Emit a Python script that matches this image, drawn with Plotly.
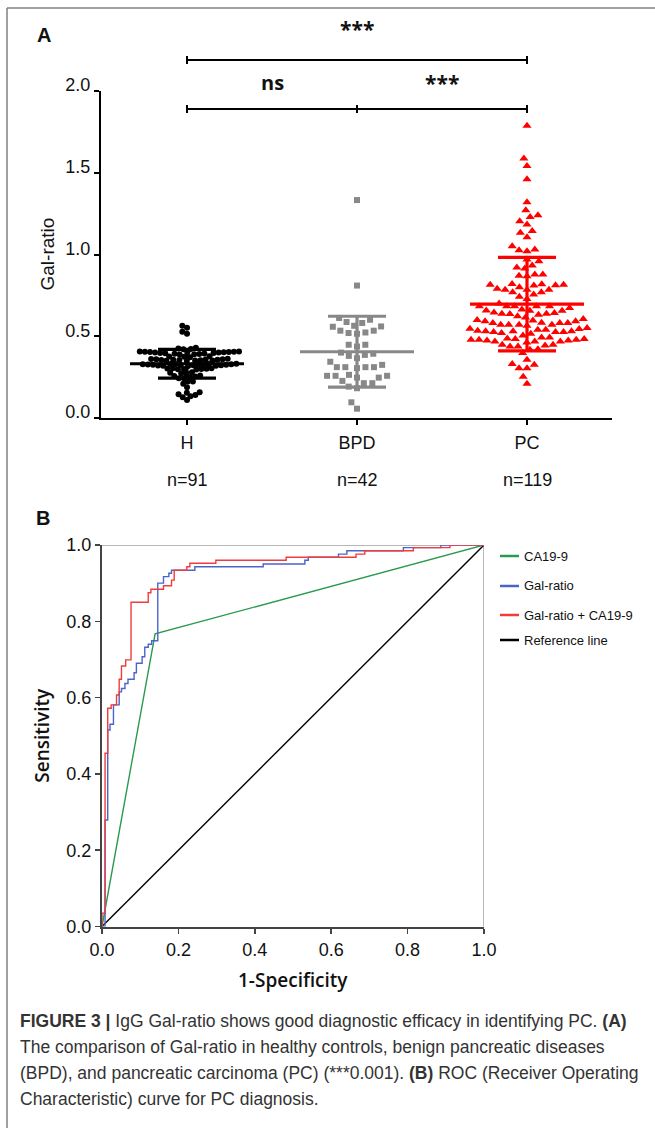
import math
import plotly.graph_objects as go

W, H = 655, 1128

# ---------------- data ----------------
groups = ["H", "BPD", "PC"]
group_colors = ["#000000", "#888888", "#ff0000"]
group_symbols = ["circle", "square", "triangle-up"]

h_values = [0.564, 0.552, 0.527, 0.515,
            0.430, 0.425, 0.422, 0.420,
            0.388, 0.390, 0.391, 0.393, 0.394, 0.396, 0.397, 0.398, 0.400,
            0.400, 0.401, 0.402, 0.403, 0.404, 0.405, 0.405, 0.406, 0.407,
            0.372, 0.375, 0.376, 0.378,
            0.348, 0.350, 0.351, 0.352, 0.353, 0.354, 0.355, 0.356, 0.357,
            0.358, 0.359, 0.360, 0.361, 0.362,
            0.318, 0.319, 0.320, 0.321, 0.322, 0.323, 0.324, 0.325, 0.325,
            0.326, 0.327, 0.327, 0.328, 0.329, 0.330, 0.331, 0.331, 0.332,
            0.296, 0.298, 0.299, 0.300, 0.301, 0.302, 0.304, 0.305,
            0.272, 0.274, 0.276, 0.280,
            0.251, 0.254, 0.257, 0.260,
            0.243, 0.243, 0.223, 0.223, 0.209, 0.188,
            0.158, 0.145, 0.133, 0.110, 0.127, 0.141, 0.155]

bpd_values = [1.333, 0.810,
              0.612, 0.601,
              0.560, 0.581, 0.587, 0.558, 0.564,
              0.534, 0.520, 0.515, 0.523, 0.534,
              0.448, 0.448, 0.437,
              0.400,
              0.386, 0.380, 0.393, 0.366,
              0.325, 0.311, 0.311, 0.305, 0.311, 0.311, 0.344,
              0.258, 0.258, 0.247, 0.247, 0.258, 0.264,
              0.213, 0.192, 0.213, 0.227, 0.182,
              0.096, 0.057]

pc_values = [1.787, 1.587, 1.542, 1.460, 1.320, 1.270, 1.240, 1.229, 1.204,
             1.184, 1.143, 1.133, 1.106, 1.051, 1.030, 1.026, 1.020, 0.969,
             0.959, 0.932, 0.920, 0.914,
             0.877, 0.877, 0.870, 0.867,
             0.815, 0.812, 0.810, 0.815, 0.818, 0.820,
             0.800, 0.791, 0.785, 0.785, 0.785,
             0.769, 0.755, 0.769, 0.742, 0.728, 0.700,
             0.683, 0.683, 0.683, 0.683, 0.683, 0.673,
             0.658, 0.656, 0.642, 0.636, 0.632, 0.663, 0.622, 0.638, 0.638,
             0.646, 0.656, 0.615,
             0.605, 0.597, 0.591, 0.581, 0.571, 0.571, 0.564, 0.571, 0.571,
             0.581, 0.581, 0.583, 0.591, 0.599,
             0.550, 0.544, 0.540, 0.530, 0.526, 0.526, 0.520, 0.530, 0.516,
             0.526, 0.530, 0.534, 0.540, 0.546, 0.505,
             0.493, 0.483, 0.479, 0.479, 0.474, 0.468, 0.462, 0.468, 0.468,
             0.474, 0.479, 0.483, 0.486, 0.493,
             0.448, 0.448, 0.437, 0.437, 0.443,
             0.421, 0.397, 0.417,
             0.331, 0.305, 0.305, 0.325, 0.356,
             0.253, 0.210]

group_values = [h_values, bpd_values, pc_values]
comparisons = [("***", 0, 2), ("ns", 0, 1), ("***", 1, 2)]

y_ticks_a = [0.0, 0.5, 1.0, 1.5, 2.0]
roc_ticks = [0.0, 0.2, 0.4, 0.6, 0.8, 1.0]

ca199_fpr = [0.0, 0.139, 1.0]
ca199_tpr = [0.0, 0.767, 1.0]

gal_fpr = [0.0, 0.008, 0.015, 0.021, 0.030, 0.045, 0.051, 0.060, 0.068, 0.084,
           0.090, 0.105, 0.112, 0.121, 0.130, 0.146, 0.161, 0.175, 0.182, 0.243,
           0.422, 0.531, 0.540, 0.619, 0.641, 0.789, 0.887, 1.0]
gal_tpr = [0.0, 0.279, 0.515, 0.530, 0.581, 0.615, 0.624, 0.637, 0.648, 0.665,
           0.690, 0.707, 0.732, 0.740, 0.749, 0.900, 0.917, 0.926, 0.934, 0.943,
           0.950, 0.960, 0.968, 0.976, 0.985, 0.993, 1.0, 1.0]

comb_fpr = [0.0, 0.0, 0.008, 0.015, 0.024, 0.038, 0.045, 0.051, 0.062, 0.076,
            0.121, 0.128, 0.161, 0.182, 0.189, 0.222, 0.230, 0.298, 0.482, 0.665,
            0.688, 0.815, 0.911, 1.0]
comb_tpr = [0.0, 0.035, 0.454, 0.572, 0.581, 0.607, 0.648, 0.683, 0.699, 0.850,
            0.875, 0.884, 0.893, 0.908, 0.934, 0.943, 0.952, 0.960, 0.968, 0.976,
            0.985, 0.993, 1.0, 1.0]

ref_fpr = [0.0, 1.0]
ref_tpr = [0.0, 1.0]

roc_names = ["CA19-9", "Gal-ratio", "Gal-ratio + CA19-9", "Reference line"]
roc_colors = ["#2a9a50", "#4a64c8", "#f03c3c", "#000000"]

caption_lines = [
    "<b>FIGURE 3 |</b> IgG Gal-ratio shows good diagnostic efficacy in identifying PC. <b>(A)</b>",
    "The comparison of Gal-ratio in healthy controls, benign pancreatic diseases",
    "(BPD), and pancreatic carcinoma (PC) (***0.001). <b>(B)</b> ROC (Receiver Operating",
    "Characteristic) curve for PC diagnosis.",
]

# ---------------- layout helpers ----------------
def py(y):
    return 1 - y / H

def pxx(x):
    return x / W

# panel A geometry (px)
A_L, A_R, A_T, A_B = 101, 612, 91, 418
A_XRANGE = [-0.506, 2.5]
A_YRANGE = [0, 2]
xscale_a = (A_R - A_L) / (A_XRANGE[1] - A_XRANGE[0])
yscale_a = (A_B - A_T) / (A_YRANGE[1] - A_YRANGE[0])

# panel B geometry (px)
B_L, B_R, B_T, B_B = 102, 484, 545, 926.5


def swarm_offsets(vals, d):
    n = len(vals)
    order = sorted(range(n), key=lambda i: vals[i])
    placed = []
    offs = [0.0] * n
    for i in order:
        yv = vals[i] * yscale_a
        nb = [(a, b) for a, b in placed if abs(b - yv) < d]
        cands = [0.0]
        for a, b in nb:
            dx = math.sqrt(max(d * d - (b - yv) ** 2, 0))
            cands += [a + dx, a - dx]
        valid = [c for c in cands
                 if all((c - a) ** 2 + (yv - b) ** 2 >= d * d - 1e-6 for a, b in nb)]
        best = min(valid, key=lambda c: (round(abs(c), 6), c))
        placed.append((best, yv))
        offs[i] = best
    return [o / xscale_a for o in offs]


fig = go.Figure()

spacing = [5.1, 8.5, 8.0]
msize = [6, 6, 8]
for gi, (name, vals) in enumerate(zip(groups, group_values)):
    offs = swarm_offsets(vals, spacing[gi])
    fig.add_trace(go.Scatter(
        x=[gi + o for o in offs], y=vals, mode="markers",
        marker=dict(symbol=group_symbols[gi], size=msize[gi], color=group_colors[gi],
                    line=dict(width=0)),
        xaxis="x", yaxis="y", showlegend=False, name=name, cliponaxis=False))

# mean +/- SD bars
for gi, vals in enumerate(group_values):
    n = len(vals)
    m = sum(vals) / n
    sd = math.sqrt(sum((v - m) ** 2 for v in vals) / (n - 1))
    hw, cw = 57 / xscale_a, 29 / xscale_a
    xs = [gi - hw, gi + hw, None, gi, gi, None, gi - cw, gi + cw, None, gi - cw, gi + cw]
    ys = [m, m, None, m - sd, m + sd, None, m + sd, m + sd, None, m - sd, m - sd]
    fig.add_trace(go.Scatter(x=xs, y=ys, mode="lines",
                             line=dict(color=group_colors[gi], width=3.2),
                             xaxis="x", yaxis="y", showlegend=False, hoverinfo="skip"))

# ROC curves
roc_data = [(ref_fpr, ref_tpr, 3, "linear"), (ca199_fpr, ca199_tpr, 0, "linear"),
            (gal_fpr, gal_tpr, 1, "hv"), (comb_fpr, comb_tpr, 2, "hv")]
for fx, ty, ci, shape in roc_data:
    fig.add_trace(go.Scatter(x=fx, y=ty, mode="lines",
                             line=dict(color=roc_colors[ci], width=1.4, shape=shape),
                             xaxis="x2", yaxis="y2", showlegend=False, name=roc_names[ci]))

tickfont = dict(family="Liberation Sans, Arial", size=18, color="#111")
common = dict(showgrid=False, zeroline=False, showline=True, automargin=False,
              ticks="outside", ticklen=5)

fig.update_layout(
    template="none",
    width=W, height=H, margin=dict(l=0, r=0, t=0, b=0, pad=0, autoexpand=False),
    paper_bgcolor="white", plot_bgcolor="white", showlegend=False,
    xaxis=dict(domain=[pxx(A_L), pxx(A_R)], range=A_XRANGE, anchor="y",
               linecolor="#000", linewidth=2, tickwidth=2, tickcolor="#000",
               tickvals=[0, 1, 2], ticktext=groups, tickfont=tickfont,
               ticklabelstandoff=2, **common),
    yaxis=dict(domain=[py(A_B), py(A_T)], range=A_YRANGE, anchor="x",
               linecolor="#000", linewidth=2, tickwidth=2, tickcolor="#000",
               tickvals=y_ticks_a, tickformat=".1f", tickfont=tickfont,
               ticklabelshift=-6, **common),
    xaxis2=dict(domain=[pxx(B_L), pxx(B_R)], range=[0, 1], anchor="y2",
                linecolor="#444", linewidth=2, tickwidth=1.5, tickcolor="#444",
                tickvals=roc_ticks, tickformat=".1f", tickfont=tickfont,
                ticklabelstandoff=1, **common),
    yaxis2=dict(domain=[py(B_B), py(B_T)], range=[0, 1], anchor="x2",
                linecolor="#444", linewidth=2, tickwidth=1.5, tickcolor="#444",
                tickvals=roc_ticks, tickformat=".1f", tickfont=tickfont, **common),
)

shapes = []
# outer frame (left + top)
shapes.append(dict(type="line", xref="paper", yref="paper", x0=pxx(7), x1=pxx(7),
                   y0=py(8), y1=0, line=dict(color="#808080", width=1.5)))
shapes.append(dict(type="line", xref="paper", yref="paper", x0=pxx(7), x1=1,
                   y0=py(8), y1=py(8), line=dict(color="#808080", width=1.5)))
# ROC top / right borders
shapes.append(dict(type="line", xref="x2", yref="y2", x0=0, x1=1, y0=1, y1=1,
                   line=dict(color="#a0a0a0", width=1.5), layer="below"))
shapes.append(dict(type="line", xref="x2", yref="y2", x0=1, x1=1, y0=0, y1=1,
                   line=dict(color="#a0a0a0", width=1.5), layer="below"))

# significance brackets
bracket_rows = {(0, 2): 60, (0, 1): 109, (1, 2): 109}
for label, g0, g1 in comparisons:
    yb = bracket_rows[(g0, g1)]
    shapes.append(dict(type="line", xref="x", yref="paper", x0=g0, x1=g1,
                       y0=py(yb), y1=py(yb), line=dict(color="#000", width=2)))
    for g in (g0, g1):
        shapes.append(dict(type="line", xref="x", yref="paper", x0=g, x1=g,
                           y0=py(yb - 4), y1=py(yb + 4), line=dict(color="#000", width=2)))

# manual legend
legend_y = [556, 586, 615, 640]
for i, yy in enumerate(legend_y):
    shapes.append(dict(type="line", xref="paper", yref="paper", x0=pxx(500), x1=pxx(519),
                       y0=py(yy), y1=py(yy), line=dict(color=roc_colors[i], width=2.5)))

annotations = []
def add_text(text, x, y, size=18, bold=False, xanchor="center", xref="paper",
             family="Liberation Sans, Arial", color="#111", textangle=0, weight=None):
    annotations.append(dict(
        text=text, x=(pxx(x) if xref == "paper" else x), y=py(y), xref=xref, yref="paper",
        xanchor=xanchor, yanchor="middle", showarrow=False, textangle=textangle,
        font=dict(family=family, size=size, color=color,
                  weight=(weight if weight else ("bold" if bold else "normal")))))

add_text("A", 35, 35, size=20, bold=True, xanchor="left")
add_text("B", 34, 518, size=20, bold=True, xanchor="left")

label_rows = {(0, 2): 29, (0, 1): 83, (1, 2): 83}
for label, g0, g1 in comparisons:
    add_text(label, (g0 + g1) / 2, label_rows[(g0, g1)], size=(20 if label == "ns" else 21),
             bold=True, xref="x", family="Open Sans, Liberation Sans")

for gi, vals in enumerate(group_values):
    add_text("n=%d" % len(vals), gi, 480, size=18, xref="x")

add_text("Gal-ratio", 47, (A_T + A_B) / 2, size=19, textangle=-90)
add_text("Sensitivity", 42, (B_T + B_B) / 2, size=19, textangle=-90,
         family="Open Sans, Noto Sans", weight=600)
add_text("1-Specificity", (B_L + B_R) / 2, 980, size=19,
         family="Open Sans, Noto Sans", weight=600)

for i, yy in enumerate(legend_y):
    add_text(roc_names[i], 522, yy, size=13, xanchor="left")

cap_y = [1021, 1047, 1073, 1099]
for line, yy in zip(caption_lines, cap_y):
    add_text(line, 18, yy, size=17.5, xanchor="left", color="#333")

fig.update_layout(shapes=shapes, annotations=annotations)
fig.write_html("out.html",
               config={"displayModeBar": False, "staticPlot": True},
               post_script="document.body.style.margin='0px';"
                           "document.body.style.overflow='hidden';")
